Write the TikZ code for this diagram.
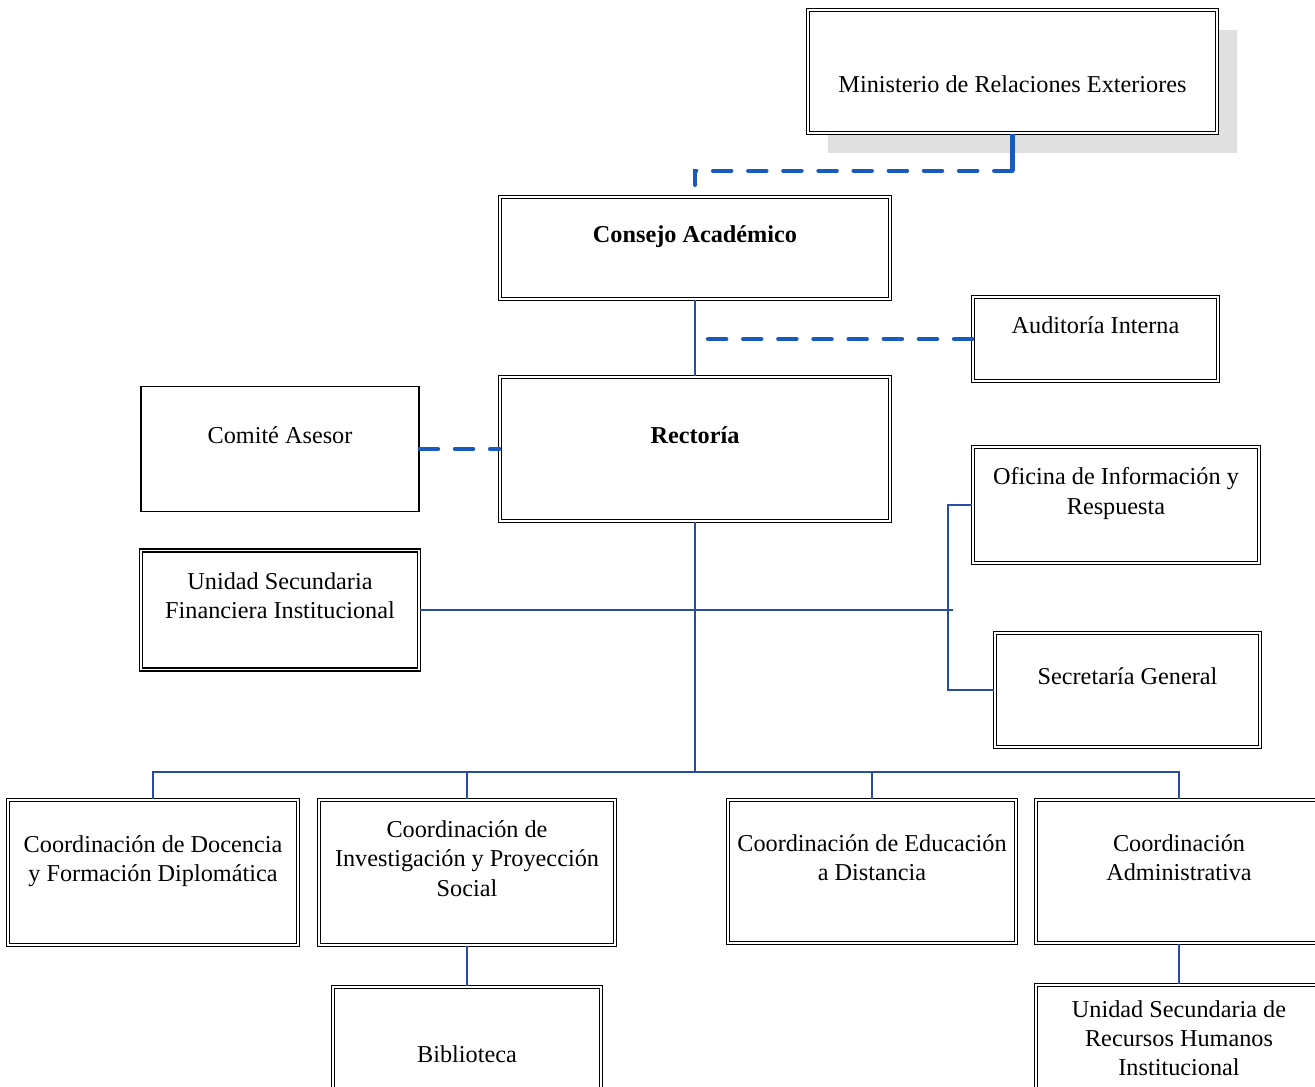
\documentclass[tikz,border=0pt]{standalone}
\usepackage{fontspec}
\setmainfont{Liberation Serif}
\usetikzlibrary{shadows}
\definecolor{lineblue}{RGB}{40,75,165}
\definecolor{dashblue}{RGB}{25,90,190}
\tikzstyle{box}=[draw, fill=white, align=center, inner sep=0pt, text depth=16pt, font=\fontsize{13.8}{16.6}\selectfont]
\tikzstyle{plain unit}=[box, line width=0.8pt]
\tikzstyle{unit}=[box, double, double distance=0.9pt, line width=0.8pt]
\tikzstyle{edge}=[draw, lineblue, line width=0.7pt]
\tikzstyle{thick edge}=[draw, dashblue, line width=2.3pt]
\tikzstyle{dashed edge}=[thick edge, dash pattern=on 10.5pt off 9.5pt, line cap=round]

\begin{document}
\begin{tikzpicture}[x=0.02cm, y=-0.02cm]
    \useasboundingbox (0,0) rectangle (1315,1086);
    % top of the chart
    \node[unit, minimum width=8.18cm, minimum height=2.46cm, text height=24pt, text depth=0pt,
          drop shadow={shadow xshift=0.4cm, shadow yshift=-0.4cm, fill=black!12, opacity=1}]
        (ministerio) at (1012.5,71.5) {Ministerio de Relaciones Exteriores};
    \node[unit, minimum width=7.8cm, minimum height=2.04cm] (consejo) at (695,248) {\textbf{Consejo Académico}};
    \node[unit, minimum width=4.9cm, minimum height=1.68cm] (auditoria) at (1095.5,339) {Auditoría Interna};
    \node[unit, minimum width=7.8cm, minimum height=2.88cm] (rectoria) at (695,449) {\textbf{Rectoría}};
    \node[plain unit, minimum width=5.56cm, minimum height=2.5cm] (comite) at (280,449) {Comité Asesor};
    \node[unit, minimum width=5.56cm, minimum height=2.38cm] (financiera) at (280,610) {Unidad Secundaria\\Financiera Institucional};
    \node[unit, minimum width=5.72cm, minimum height=2.32cm] (oficina) at (1116,505) {Oficina de Información y\\Respuesta};
    \node[unit, minimum width=5.3cm, minimum height=2.28cm] (secretaria) at (1127.5,690) {Secretaría General};
    % coordinations
    \node[unit, minimum width=5.8cm, minimum height=2.9cm] (docencia) at (153,872.5) {Coordinación de Docencia\\y Formación Diplomática};
    \node[unit, minimum width=5.92cm, minimum height=2.9cm] (investigacion) at (467,872.5) {Coordinación de\\Investigación y Proyección\\Social};
    \node[unit, minimum width=5.76cm, minimum height=2.86cm] (distancia) at (872,871.5) {Coordinación de Educación\\a Distancia};
    \node[unit, minimum width=5.72cm, minimum height=2.86cm] (administrativa) at (1179,871.5) {Coordinación\\Administrativa};
    \node[unit, minimum width=5.36cm, minimum height=3.24cm] (biblioteca) at (467,1068) {Biblioteca};
    \node[unit, minimum width=5.72cm, minimum height=2.68cm] (rrhh) at (1179,1052) {Unidad Secundaria de\\Recursos Humanos\\Institucional};

    \coordinate (cturn) at (695,185);
    \coordinate (audend) at (707,339);
    \coordinate (side) at (948,610);
    \coordinate (sideend) at (953,610);
    \coordinate (bus) at (695,772);

    \draw[thick edge] (ministerio.south) -- ++(0,37) coordinate (mturn);
    \draw[dashed edge] (mturn) -| (cturn);
    \draw[dashed edge] (auditoria) -- (audend);
    \draw[dashed edge] (comite) -- (rectoria);
    \path[edge] (consejo) -- (rectoria);
    \path[edge] (rectoria) -- (bus);
    \path[edge] (financiera) -- (sideend);
    \foreach \dest in {oficina, secretaria}
        \path[edge] (side) |- (\dest);
    \foreach \dest in {docencia, investigacion, distancia, administrativa}
        \path[edge] (bus) -| (\dest);
    \path[edge] (investigacion) -- (biblioteca);
    \path[edge] (administrativa) -- (rrhh);
\end{tikzpicture}
\end{document}
